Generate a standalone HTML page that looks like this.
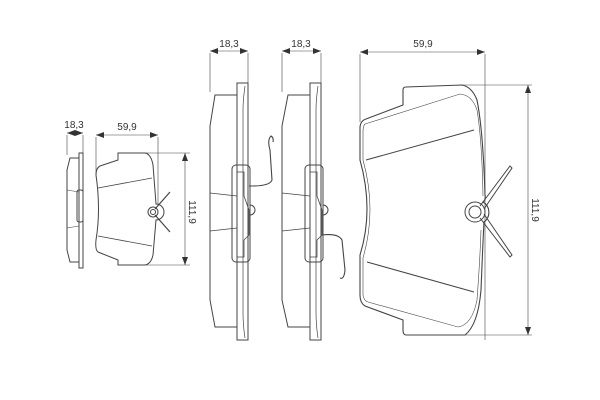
<!DOCTYPE html>
<html><head><meta charset="utf-8"><style>
html,body{margin:0;padding:0;background:#fff}
svg{display:block}
text{font-family:"Liberation Sans",sans-serif;font-size:10px;fill:#333}
</style></head><body>
<svg width="600" height="400" viewBox="0 0 600 400" xmlns="http://www.w3.org/2000/svg">
<defs>
<marker id="a" markerWidth="8" markerHeight="6" refX="8" refY="3" orient="auto-start-reverse" markerUnits="userSpaceOnUse"><path d="M0,0 L8,3 L0,6 Z" fill="#333"/></marker>
</defs>
<g fill="none" stroke="#444" stroke-width="1">
<!-- Small side view -->
<line x1="67" y1="135" x2="67" y2="155" stroke-width="0.6"/>
<line x1="83" y1="135" x2="83" y2="153" stroke-width="0.6"/>
<line x1="67" y1="133" x2="83" y2="133" marker-start="url(#a)" marker-end="url(#a)" stroke-width="0.6"/>
<rect x="79" y="153" width="4" height="115"/>
<path d="M79,158 L70,158 L67,170 L67,250 L70,262 L79,262"/>
<line x1="67" y1="190" x2="79" y2="192" stroke-width="0.6"/>
<line x1="67" y1="228" x2="79" y2="226" stroke-width="0.6"/>
<rect x="77" y="190" width="6" height="32" rx="2"/>
<!-- Small pad -->
<line x1="96" y1="137" x2="96" y2="175" stroke-width="0.6"/>
<line x1="158" y1="137" x2="158" y2="205" stroke-width="0.6"/>
<line x1="96" y1="135" x2="158" y2="135" marker-start="url(#a)" marker-end="url(#a)" stroke-width="0.6"/>
<line x1="145" y1="153" x2="190" y2="153" stroke-width="0.6"/>
<line x1="145" y1="265" x2="190" y2="265" stroke-width="0.6"/>
<line x1="185" y1="153" x2="185" y2="265" marker-start="url(#a)" marker-end="url(#a)" stroke-width="0.6"/>
<path d="M118,153 L145,153 Q151,154 153,165 L156,204 A8,8 0 0 1 156,220 L153,255 Q151,264 145,265 L118,265 L118,260 L98,252 Q95,250 96,240 Q101,210 96,175 Q96,168 100,166 L118,160 Z"/>
<line x1="98" y1="188" x2="152" y2="178" stroke-width="0.8"/>
<line x1="98" y1="236" x2="152" y2="246" stroke-width="0.8"/>
<circle cx="153" cy="212" r="5"/><circle cx="153" cy="212" r="2.5"/>
<path d="M155,209 L170,192 M155,215 L170,232" stroke-width="1.2"/>
<!-- Middle side view 1 -->
<line x1="210" y1="53" x2="210" y2="92" stroke-width="0.6"/>
<line x1="248" y1="53" x2="248" y2="83" stroke-width="0.6"/>
<line x1="210" y1="51" x2="248" y2="51" marker-start="url(#a)" marker-end="url(#a)" stroke-width="0.6"/>
<rect x="237" y="83" width="11" height="257"/>
<path d="M245,86 Q243,100 243,110 L243,312 Q243,325 245,338" stroke-width="0.7"/>
<path d="M237,95 L215,95 L210,126 L210,300 L215,327 L237,327"/>
<line x1="210" y1="193" x2="237" y2="196" stroke-width="0.7"/>
<line x1="210" y1="231" x2="237" y2="228" stroke-width="0.7"/>
<rect x="232" y="165" width="18" height="97" rx="4"/>
<path d="M237,172 L244,172 L244,196 L249,210 L249,235 L244,240 L244,257 L237,257 Z" stroke-width="0.8"/>
<path d="M249,186 L252,186 Q270,186 272,180 L270,150 Q267,140 271,136 Q274,138 273,142" stroke-width="1.1"/>
<path d="M250,205 A5,5 0 0 1 250,215" />
<!-- Middle side view 2 -->
<line x1="282" y1="53" x2="282" y2="92" stroke-width="0.6"/>
<line x1="321" y1="53" x2="321" y2="83" stroke-width="0.6"/>
<line x1="282" y1="51" x2="321" y2="51" marker-start="url(#a)" marker-end="url(#a)" stroke-width="0.6"/>
<rect x="310" y="83" width="11" height="257"/>
<path d="M318,86 Q316,100 316,110 L316,312 Q316,325 318,338" stroke-width="0.7"/>
<path d="M310,95 L288,95 L282,126 L282,300 L288,327 L310,327"/>
<line x1="282" y1="193" x2="310" y2="196" stroke-width="0.7"/>
<line x1="282" y1="231" x2="310" y2="228" stroke-width="0.7"/>
<rect x="305" y="165" width="18" height="97" rx="4"/>
<path d="M310,172 L317,172 L317,196 L322,210 L322,235 L317,240 L317,257 L310,257 Z" stroke-width="0.8"/>
<path d="M322,235 Q338,233 342,240 L345,270 Q344,280 340,278" stroke-width="1.1"/>
<path d="M323,205 A5,5 0 0 1 323,215"/>
<!-- Large pad -->
<line x1="360" y1="54" x2="360" y2="122" stroke-width="0.6"/>
<line x1="485" y1="54" x2="485" y2="340" stroke-width="0.6"/>
<line x1="360" y1="52" x2="485" y2="52" marker-start="url(#a)" marker-end="url(#a)" stroke-width="0.6"/>
<line x1="462" y1="85" x2="532" y2="85" stroke-width="0.6"/>
<line x1="462" y1="335" x2="532" y2="335" stroke-width="0.6"/>
<line x1="528" y1="85" x2="528" y2="335" marker-start="url(#a)" marker-end="url(#a)" stroke-width="0.6"/>
<path d="M406,87 L462,85 Q472,87 477,100 Q483,130 485,195 Q486,200 483,202 A12,12 0 0 1 484,222 Q483,240 481,290 Q478,325 465,335 L406,335 Q403,335 403,330 L403,320 L365,306 Q360,303 360,295 L360,255 Q374,210 360,160 L360,128 Q360,121 366,119 L403,105 L403,90 Q403,87 406,87 Z" stroke-width="1.1"/>
<path d="M365,124 L460,94 Q472,95 477,110 Q482,140 483,196 M365,124 Q363,126 363,132 L363,160 Q377,210 363,258 L363,295 Q364,301 368,302 L458,327 Q472,325 477,300 Q480,260 481,230" stroke-width="0.6"/>
<line x1="366" y1="160" x2="474" y2="130"/>
<line x1="367" y1="262" x2="474" y2="292"/>
<circle cx="475" cy="212" r="10"/><circle cx="475" cy="212" r="6"/>
<path d="M480,206 L510,166 L512,168 L484,209 M480,218 L510,257 L512,255 L484,214" stroke-width="1"/>
</g>
<text x="74" y="128" text-anchor="middle">18,3</text>
<text x="127" y="130" text-anchor="middle">59,9</text>
<text x="229" y="47" text-anchor="middle">18,3</text>
<text x="301" y="47" text-anchor="middle">18,3</text>
<text x="423" y="47" text-anchor="middle">59,9</text>
<text transform="translate(189,212) rotate(90)" text-anchor="middle">111,9</text>
<text transform="translate(532,210) rotate(90)" text-anchor="middle">111,9</text>
</svg>
</body></html>
